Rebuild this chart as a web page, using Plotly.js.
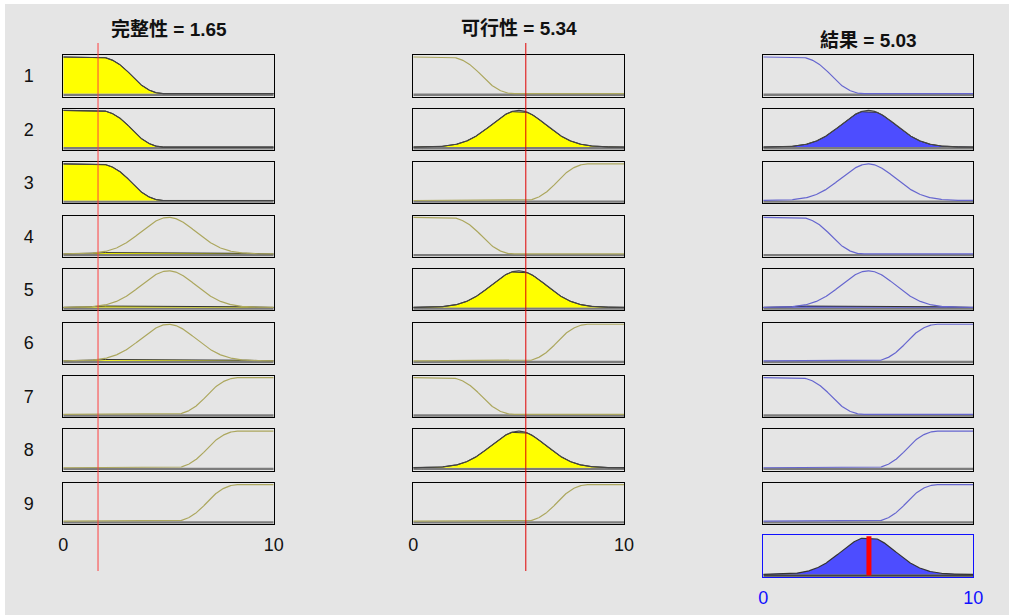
<!DOCTYPE html>
<html>
<head>
<meta charset="utf-8">
<script src="https://cdn.plot.ly/plotly-3.0.1.min.js"></script>
<style>html,body{margin:0;padding:0;background:#fff;}#chart{width:1009px;height:615px;}</style>
</head>
<body>
<div id="chart"></div>
<script>
// ---- data ----
const inputNames = ['完整性', '可行性'];
const outputName = '結果';
const inputValues = [1.65, 5.34];
const outputValue = 5.03;
const ruleLabels = ['1', '2', '3', '4', '5', '6', '7', '8', '9'];
// membership functions (same set for every variable): low / mid / high
const mfTypes = ['zmf', 'gaussmf', 'smf'];
const mfParams = [[1.7, 4.75], [5.0, 1.3], [5.3, 8.3]];
// rule antecedents / consequents (1-based MF index)
const ruleIn1 = [1, 1, 1, 2, 2, 2, 3, 3, 3];
const ruleIn2 = [1, 2, 3, 1, 2, 3, 1, 2, 3];
const ruleOut = [1, 2, 2, 1, 2, 3, 1, 3, 3];
const xRange = [0, 10];
const tickVals = [0, 10];
const tickText = ['0', '10'];

// ---- membership functions ----
function mf(type, p, x) {
  if (type === 'zmf') {
    const a = p[0], b = p[1];
    if (x <= a) return 1;
    if (x >= b) return 0;
    const m = (a + b) / 2;
    if (x <= m) return 1 - 2 * Math.pow((x - a) / (b - a), 2);
    return 2 * Math.pow((x - b) / (b - a), 2);
  }
  if (type === 'smf') {
    const a = p[0], b = p[1];
    if (x <= a) return 0;
    if (x >= b) return 1;
    const m = (a + b) / 2;
    if (x <= m) return 2 * Math.pow((x - a) / (b - a), 2);
    return 1 - 2 * Math.pow((x - b) / (b - a), 2);
  }
  const c = p[0], s = p[1];
  return Math.exp(-Math.pow(x - c, 2) / (2 * s * s));
}
const N = 400;
const xs = [];
for (let i = 0; i <= N; i++) xs.push(xRange[0] + (xRange[1] - xRange[0]) * i / N);
function curve(k) { return xs.map(x => mf(mfTypes[k - 1], mfParams[k - 1], x)); }

// ---- layout geometry (pixels) ----
const W = 1009, H = 615;
const colX = [[63.3, 273.7], [413.3, 624.0], [763.3, 973.3]];
const rowTop0 = 55.3, rowPitch = 53.45, rowH = 41.2;
const aggTop = 535.3, aggH = 42;
const yR = [-0.08, 1.047];
const yMid = (yR[0] + yR[1]) / 2;
const baseY = -0.032;

const FONT = '"Liberation Sans", Arial, "Noto Sans CJK TC", sans-serif';
const olive = '#aca75e';
const blueLine = '#6666cf';

const traces = [];
const layout = {
  width: W, height: H,
  margin: {l: 0, r: 0, t: 0, b: 0},
  paper_bgcolor: '#ffffff',
  plot_bgcolor: '#ffffff',
  showlegend: false,
  font: {family: FONT, size: 18, color: '#111'},
  shapes: [],
  annotations: []
};
layout.shapes.push({type: 'rect', xref: 'paper', yref: 'paper', layer: 'below',
  x0: 5 / W, x1: 1, y0: 0, y1: 1 - 4 / H, fillcolor: '#e5e5e5', line: {width: 0}});

let axN = 0;
function addAxis(col, top, h, opts) {
  axN++;
  const sx = axN === 1 ? '' : String(axN);
  const xa = {
    domain: [colX[col][0] / W, colX[col][1] / W], range: xRange, anchor: 'y' + sx,
    showgrid: false, zeroline: false, showline: true, mirror: true,
    linecolor: opts.border || '#000', linewidth: 1,
    showticklabels: !!opts.xticks, tickvals: tickVals, ticktext: tickText,
    ticks: opts.xticks ? 'outside' : '', ticklen: 4, tickcolor: 'rgba(0,0,0,0)',
    tickfont: {family: FONT, size: 18, color: opts.tickColor || '#111'},
    fixedrange: true
  };
  const ya = {
    domain: [1 - (top + h) / H, 1 - top / H], range: yR, anchor: 'x' + sx,
    showgrid: false, zeroline: false, showline: true, mirror: true,
    linecolor: opts.border || '#000', linewidth: 1,
    showticklabels: !!opts.ylabel, tickvals: [yMid], ticktext: [opts.ylabel || ''],
    ticks: opts.ylabel ? 'outside' : '', ticklen: 25, tickcolor: 'rgba(0,0,0,0)',
    tickfont: {family: FONT, size: 18, color: '#111'},
    fixedrange: true
  };
  layout['xaxis' + sx] = xa;
  layout['yaxis' + sx] = ya;
  return {x: 'x' + sx, y: 'y' + sx};
}

function baseLine(ax, color, w) {
  traces.push({type: 'scatter', mode: 'lines', x: [xRange[0], xRange[1]], y: [baseY, baseY],
    xaxis: ax.x, yaxis: ax.y, line: {color: color, width: w}, hoverinfo: 'skip'});
}
function drawMF(ax, k, level, lineColor, fillColor) {
  const ys = curve(k);
  baseLine(ax, '#7c7c7c', 2.4);
  if (level > 0.003) {
    const clipped = ys.map(v => Math.min(v, level));
    traces.push({type: 'scatter', mode: 'lines', x: xs, y: clipped, xaxis: ax.x, yaxis: ax.y,
      fill: 'tozeroy', fillcolor: fillColor, line: {color: '#333', width: 1}, hoverinfo: 'skip'});
  }
  traces.push({type: 'scatter', mode: 'lines', x: xs, y: ys, xaxis: ax.x, yaxis: ax.y,
    line: {color: level > 0.05 ? '#444' : lineColor, width: 1.2}, hoverinfo: 'skip'});
}

const firing = [];
const axIn = [[], []];
for (let r = 0; r < ruleLabels.length; r++) {
  const top = rowTop0 + rowPitch * r;
  const mu1 = mf(mfTypes[ruleIn1[r] - 1], mfParams[ruleIn1[r] - 1], inputValues[0]);
  const mu2 = mf(mfTypes[ruleIn2[r] - 1], mfParams[ruleIn2[r] - 1], inputValues[1]);
  firing.push(Math.min(mu1, mu2));
  const a1 = addAxis(0, top, rowH, {ylabel: ruleLabels[r], xticks: r === ruleLabels.length - 1});
  drawMF(a1, ruleIn1[r], mu1, olive, '#ffff00');
  axIn[0].push(a1);
  const a2 = addAxis(1, top, rowH, {xticks: r === ruleLabels.length - 1});
  drawMF(a2, ruleIn2[r], mu2, olive, '#ffff00');
  axIn[1].push(a2);
}
for (let r = 0; r < ruleLabels.length; r++) {
  const top = rowTop0 + rowPitch * r;
  const a3 = addAxis(2, top, rowH, {});
  drawMF(a3, ruleOut[r], firing[r], blueLine, '#4d4dff');
}
// aggregated output
const aAgg = addAxis(2, aggTop, aggH, {xticks: true, border: '#1010ff', tickColor: '#1010ff'});
const agg = xs.map((x, i) => {
  let m = 0;
  for (let r = 0; r < ruleOut.length; r++) {
    m = Math.max(m, Math.min(firing[r], mf(mfTypes[ruleOut[r] - 1], mfParams[ruleOut[r] - 1], x)));
  }
  return m;
});
baseLine(aAgg, '#444', 2.4);
traces.push({type: 'scatter', mode: 'lines', x: xs, y: agg, xaxis: aAgg.x, yaxis: aAgg.y,
  fill: 'tozeroy', fillcolor: '#4d4dff', line: {color: '#333', width: 1.2}, hoverinfo: 'skip'});
traces.push({type: 'scatter', mode: 'lines', x: [outputValue, outputValue], y: [-0.03, 1.02],
  xaxis: aAgg.x, yaxis: aAgg.y, line: {color: '#ff0000', width: 5}, hoverinfo: 'skip'});

// input value indicator lines
const lineColors = ['#ff4040', '#e00000'];
for (let c = 0; c < 2; c++) {
  layout.shapes.push({type: 'line', xref: axIn[c][0].x, yref: 'paper',
    x0: inputValues[c], x1: inputValues[c], y0: 1 - 571 / H, y1: 1 - 43 / H,
    line: {color: lineColors[c], width: 1}});
}

// titles
const titleY = [29, 29, 41];
const titles = [inputNames[0] + ' = ' + inputValues[0].toFixed(2),
                inputNames[1] + ' = ' + inputValues[1].toFixed(2),
                outputName + ' = ' + outputValue.toFixed(2)];
for (let c = 0; c < 3; c++) {
  layout.annotations.push({xref: 'paper', yref: 'paper', x: (colX[c][0] + colX[c][1]) / 2 / W,
    y: 1 - titleY[c] / H, xanchor: 'center', yanchor: 'middle', showarrow: false,
    text: '<b>' + titles[c] + '</b>',
    font: {family: '"Liberation Sans", Arial, "Noto Sans CJK TC", sans-serif', size: 19, color: '#111'}});
}

Plotly.newPlot('chart', traces, layout, {displayModeBar: false, staticPlot: true});
</script>
</body>
</html>
